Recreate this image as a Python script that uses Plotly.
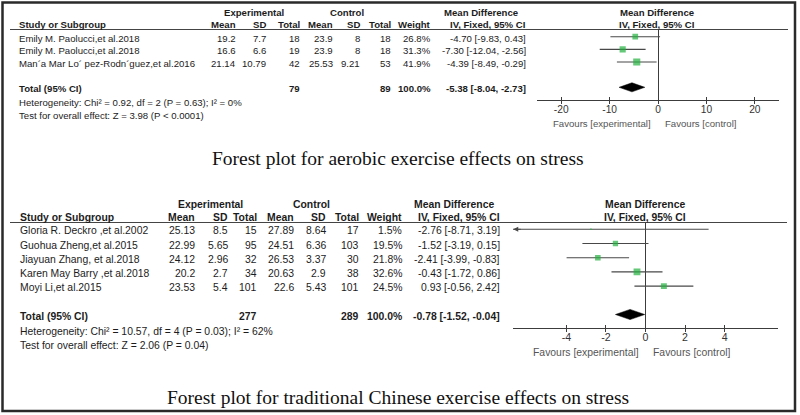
import math
import plotly.graph_objects as go

W, H = 800, 415

# ---------------- Panel A: aerobic exercise ----------------
a_study = ["Emily M. Paolucci,et al.2018", "Emily M. Paolucci,et al.2018",
           "Man´a Mar Lo´ pez-Rodn´guez,et al.2016"]
a_exp_mean = [19.2, 16.6, 21.14]
a_exp_sd = [7.7, 6.6, 10.79]
a_exp_n = [18, 19, 42]
a_ctl_mean = [23.9, 23.9, 25.53]
a_ctl_sd = [8, 8, 9.21]
a_ctl_n = [18, 18, 53]
a_weight = [26.8, 31.3, 41.9]
a_md = [-4.70, -7.30, -4.39]
a_lo = [-9.83, -12.04, -8.49]
a_hi = [0.43, -2.56, -0.29]
a_tot_exp_n = 79
a_tot_ctl_n = 89
a_tot_weight = 100.0
a_tot_md = -5.38
a_tot_lo = -8.04
a_tot_hi = -2.73
a_het = "Heterogeneity: Chi² = 0.92, df = 2 (P = 0.63); I² = 0%"
a_test = "Test for overall effect: Z = 3.98 (P < 0.0001)"
a_ticks = [-20, -10, 0, 10, 20]
a_title = "Forest plot for aerobic exercise effects on stress"

# ---------------- Panel B: traditional Chinese exercise ----------------
b_study = ["Gloria R. Deckro ,et al.2002", "Guohua Zheng,et al.2015",
           "Jiayuan Zhang, et al.2018", "Karen May Barry ,et al.2018",
           "Moyi Li,et al.2015"]
b_exp_mean = [25.13, 22.99, 24.12, 20.2, 23.53]
b_exp_sd = [8.5, 5.65, 2.96, 2.7, 5.4]
b_exp_n = [15, 95, 32, 34, 101]
b_ctl_mean = [27.89, 24.51, 26.53, 20.63, 22.6]
b_ctl_sd = [8.64, 6.36, 3.37, 2.9, 5.43]
b_ctl_n = [17, 103, 30, 38, 101]
b_weight = [1.5, 19.5, 21.8, 32.6, 24.5]
b_md = [-2.76, -1.52, -2.41, -0.43, 0.93]
b_lo = [-8.71, -3.19, -3.99, -1.72, -0.56]
b_hi = [3.19, 0.15, -0.83, 0.86, 2.42]
b_tot_exp_n = 277
b_tot_ctl_n = 289
b_tot_weight = 100.0
b_tot_md = -0.78
b_tot_lo = -1.52
b_tot_hi = -0.04
b_het = "Heterogeneity: Chi² = 10.57, df = 4 (P = 0.03); I² = 62%"
b_test = "Test for overall effect: Z = 2.06 (P = 0.04)"
b_ticks = [-4, -2, 0, 2, 4]
b_title = "Forest plot for traditional Chinese exercise effects on stress"

TXT = "#1c1c1c"
AXC = "#3c3c3c"
GREEN = "#22b03e"
SANS = "Liberation Sans, Arial, sans-serif"
SERIF = "Liberation Serif, Times New Roman, serif"


def px(x):
    return x / W


def py(y):
    return 1 - y / H


def fmt(v):
    return "{:g}".format(v)


def ci_text(m, lo, hi):
    return "%.2f [%.2f, %.2f]" % (m, lo, hi)


fig = go.Figure()
annotations = []
shapes = []
layout_axes = {}


def panel(idx, data, cfg):
    (study, em, esd, en, cm, csd, cn, w, md, lo, hi,
     ten, tcn, tw, tmd, tlo, thi, het, test, ticks, title) = data
    xa = "x" if idx == 1 else "x%d" % idx
    ya = "y" if idx == 1 else "y%d" % idx
    xo = "x%d" % (idx + 2)
    fs = cfg["fs"]
    n = len(study)
    total_row = n + 1
    r0, pitch = cfg["row0"], cfg["pitch"]
    ymin = (cfg["top"] - r0) / pitch
    ymax = (cfg["bottom"] - r0) / pitch
    rng = cfg["xrng"]

    # confidence interval lines
    xs, ys = [], []
    for i in range(n):
        xs += [lo[i], hi[i], None]
        ys += [i, i, None]
    fig.add_trace(go.Scatter(x=xs, y=ys, mode="lines", xaxis=xa, yaxis=ya,
                             line=dict(color="#484848", width=1.1),
                             hoverinfo="skip", showlegend=False))
    # squares sized by weight
    fig.add_trace(go.Scatter(x=md, y=list(range(n)), mode="markers", xaxis=xa, yaxis=ya,
                             marker=dict(symbol="square", color=GREEN,
                                         size=[cfg["sq"] * math.sqrt(v) for v in w],
                                         line=dict(width=0)),
                             hoverinfo="skip", showlegend=False))
    # pooled diamond
    h = 0.36
    fig.add_trace(go.Scatter(x=[tlo, tmd, thi, tmd, tlo],
                             y=[total_row, total_row - h, total_row, total_row + h, total_row],
                             mode="lines", fill="toself", fillcolor="black",
                             line=dict(color="black", width=0.5), xaxis=xa, yaxis=ya,
                             hoverinfo="skip", showlegend=False))
    # dummy trace for the overlay (outside ticks) axis
    fig.add_trace(go.Scatter(x=[tmd], y=[total_row], mode="markers", xaxis=xo, yaxis=ya,
                             marker=dict(opacity=0), hoverinfo="skip", showlegend=False))

    # truncated CI arrows
    for i in range(n):
        if lo[i] < rng[0]:
            annotations.append(dict(x=rng[0] + 0.001 * (rng[1] - rng[0]), y=i, xref=xa, yref=ya,
                                    text="", showarrow=True, ax=9, ay=0, arrowhead=2,
                                    arrowsize=1, arrowwidth=1, arrowcolor="#484848"))
        if hi[i] > rng[1]:
            annotations.append(dict(x=rng[1] - 0.001 * (rng[1] - rng[0]), y=i, xref=xa, yref=ya,
                                    text="", showarrow=True, ax=-9, ay=0, arrowhead=2,
                                    arrowsize=1, arrowwidth=1, arrowcolor="#484848"))

    dom_x = [px(cfg["xdom"][0]), px(cfg["xdom"][1])]
    dom_y = [py(cfg["bottom"]), py(cfg["top"])]
    key = "xaxis" if idx == 1 else "xaxis%d" % idx
    ykey = "yaxis" if idx == 1 else "yaxis%d" % idx
    # main axis: labels + ticks above the line
    layout_axes[key] = dict(domain=dom_x, range=list(rng), anchor=ya, tickvals=ticks,
                            ticktext=[str(t) for t in ticks],
                            ticks="inside", ticklen=3, tickcolor=AXC, tickwidth=1,
                            showline=True, linecolor=AXC, linewidth=1,
                            zeroline=True, zerolinecolor=AXC, zerolinewidth=1,
                            showgrid=False,
                            tickfont=dict(family=SANS, size=cfg["tfs"], color="#333"),
                            fixedrange=True)
    # overlay axis: tick marks below the line (so ticks cross the axis)
    layout_axes["xaxis%d" % (idx + 2)] = dict(overlaying=xa, anchor=ya, range=list(rng),
                                              tickvals=ticks, ticks="outside", ticklen=3,
                                              tickcolor=AXC, tickwidth=1, showticklabels=False,
                                              showline=False, zeroline=False, showgrid=False,
                                              fixedrange=True)
    layout_axes[ykey] = dict(domain=dom_y, range=[ymax, ymin], visible=False,
                             showgrid=False, zeroline=False, fixedrange=True)

    def txt(x, y, s, anchor="right", bold=False, yref="paper", xref="paper", size=None, color=TXT,
            yshift=0, family=SANS, xshift=0):
        annotations.append(dict(x=x, y=y, xref=xref, yref=yref, text=("<b>%s</b>" % s) if bold else s,
                                showarrow=False, xanchor=anchor, yanchor="middle",
                                font=dict(family=family, size=size or fs, color=color),
                                yshift=yshift, xshift=xshift))

    c = cfg["cols"]
    # group headers
    txt(px(cfg["exp_c"]), py(cfg["grp_y"]), "Experimental", "center", True)
    txt(px(cfg["ctl_c"]), py(cfg["grp_y"]), "Control", "center", True)
    txt(px(cfg["md_c"]), py(cfg["grp_y"]), "Mean Difference", "center", True)
    txt(px(cfg["fmd_c"]), py(cfg["grp_y"]), "Mean Difference", "center", True)
    # column headers
    hy = py(cfg["hdr_y"])
    txt(px(cfg["name_x"]), hy, "Study or Subgroup", "left", True)
    for xx, s in zip(c, ["Mean", "SD", "Total", "Mean", "SD", "Total", "Weight",
                         "IV, Fixed, 95% CI"]):
        txt(px(xx), hy, s, "right", True)
    txt(px(cfg["fmd_c"]), hy, "IV, Fixed, 95% CI", "center", True)

    # study rows
    ysh = cfg["yshift"]
    for i in range(n):
        txt(px(cfg["name_x"]), i, study[i], "left", yref=ya, yshift=ysh)
        vals = [fmt(em[i]), fmt(esd[i]), fmt(en[i]), fmt(cm[i]), fmt(csd[i]), fmt(cn[i]),
                "%.1f%%" % w[i], ci_text(md[i], lo[i], hi[i])]
        for xx, s in zip(c, vals):
            txt(px(xx), i, s, "right", yref=ya, yshift=ysh)
    # total row
    txt(px(cfg["name_x"]), total_row, "Total (95% CI)", "left", True, yref=ya, yshift=ysh)
    txt(px(c[2]), total_row, fmt(ten), "right", True, yref=ya, yshift=ysh)
    txt(px(c[5]), total_row, fmt(tcn), "right", True, yref=ya, yshift=ysh)
    txt(px(c[6]), total_row, "%.1f%%" % tw, "right", True, yref=ya, yshift=ysh)
    txt(px(c[7]), total_row, ci_text(tmd, tlo, thi), "right", True, yref=ya, yshift=ysh)
    txt(px(cfg["name_x"]), py(cfg["het_y"]), het, "left")
    txt(px(cfg["name_x"]), py(cfg["test_y"]), test, "left")

    # favours labels
    txt(0, py(cfg["fav_y"]), "Favours [experimental]", "right", xref=xa, color="#555", xshift=-5)
    txt(0, py(cfg["fav_y"]), "Favours [control]", "left", xref=xa, color="#555", xshift=5)

    # header rule
    shapes.append(dict(type="line", xref="paper", yref="paper",
                       x0=px(cfg["rule"][0]), x1=px(cfg["rule"][1]),
                       y0=py(cfg["top"]), y1=py(cfg["top"]),
                       line=dict(color="#444", width=1.2)))
    # caption
    annotations.append(dict(x=px(398), y=py(cfg["cap_y"]), xref="paper", yref="paper",
                            text=title, showarrow=False, xanchor="center", yanchor="middle",
                            font=dict(family=SERIF, size=19.5, color="#111")))


cfgA = dict(xdom=(537, 779), xrng=(-25, 25), row0=36.7, pitch=12.65, top=29.5, bottom=100,
            fs=9.6, tfs=10.2, name_x=17, cols=[238, 268, 302, 335, 362, 393, 433, 528],
            grp_y=12.7, hdr_y=24.5, exp_c=254, ctl_c=347, md_c=481, fmd_c=657,
            rule=(10, 788), het_y=102, test_y=116, fav_y=123, cap_y=158, sq=1.1,
            yshift=-1.5)
cfgB = dict(xdom=(513, 778), xrng=(-6.7, 6.7), row0=229.3, pitch=14.2, top=222.5, bottom=327.7,
            fs=10.4, tfs=10.6, name_x=18, cols=[197, 230, 259, 296, 328, 361, 404, 502],
            grp_y=204, hdr_y=217, exp_c=210, ctl_c=311, md_c=453.5, fmd_c=645,
            rule=(10, 787), het_y=331.5, test_y=345, fav_y=352, cap_y=397, sq=1.2,
            yshift=-1.5)

panel(1, (a_study, a_exp_mean, a_exp_sd, a_exp_n, a_ctl_mean, a_ctl_sd, a_ctl_n, a_weight,
          a_md, a_lo, a_hi, a_tot_exp_n, a_tot_ctl_n, a_tot_weight, a_tot_md, a_tot_lo,
          a_tot_hi, a_het, a_test, a_ticks, a_title), cfgA)
panel(2, (b_study, b_exp_mean, b_exp_sd, b_exp_n, b_ctl_mean, b_ctl_sd, b_ctl_n, b_weight,
          b_md, b_lo, b_hi, b_tot_exp_n, b_tot_ctl_n, b_tot_weight, b_tot_md, b_tot_lo,
          b_tot_hi, b_het, b_test, b_ticks, b_title), cfgB)

# outer frame
shapes.append(dict(type="rect", xref="paper", yref="paper",
                   x0=px(2.5), x1=px(795), y0=py(411), y1=py(2.5),
                   line=dict(color="#2a2a2a", width=2.5)))

fig.update_layout(width=W, height=H, margin=dict(l=0, r=0, t=0, b=0),
                  paper_bgcolor="white", plot_bgcolor="white", showlegend=False,
                  annotations=annotations, shapes=shapes, **layout_axes)

fig.write_html("out.html",
               config={"displayModeBar": False, "staticPlot": True},
               post_script="document.body.style.margin='0px';"
                           "document.body.style.padding='0px';"
                           "document.body.style.overflow='hidden';")
